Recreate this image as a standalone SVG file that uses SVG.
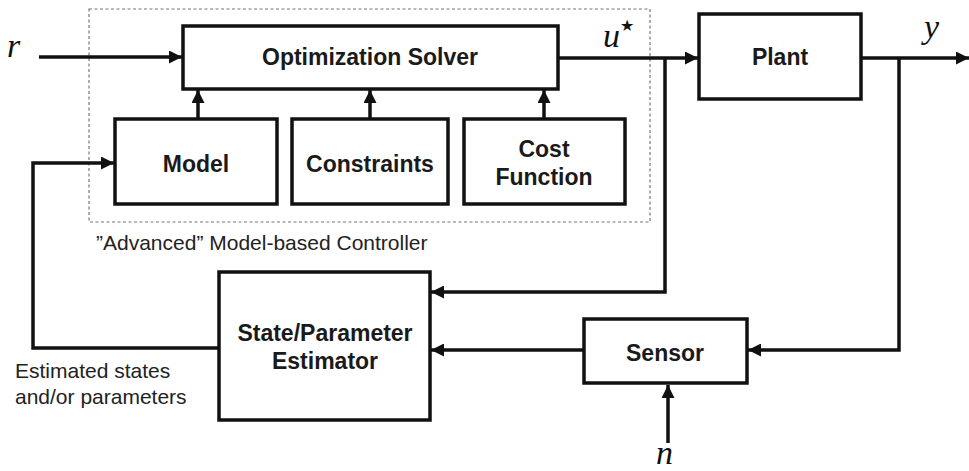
<svg xmlns="http://www.w3.org/2000/svg" width="969" height="471" viewBox="0 0 969 471">
<style>
.box{fill:#fff;stroke:#111;stroke-width:3.5}
.lbl{font-family:"Liberation Sans",Arial,sans-serif;font-weight:bold;font-size:23px;fill:#1a1a1a;text-anchor:middle}
.note{font-family:"Liberation Sans",Arial,sans-serif;font-size:21px;fill:#222}
.math{font-family:"Liberation Serif","DejaVu Serif",serif;font-style:italic;font-size:34px;fill:#111}
.wire{fill:none;stroke:#111;stroke-width:3.5}
</style>
<defs>
<marker id="ah" viewBox="0 0 13 13" refX="13" refY="6.5" markerWidth="13" markerHeight="13" markerUnits="userSpaceOnUse" orient="auto">
<path d="M0,0 L13,6.5 L0,13 z" fill="#111"/>
</marker>
</defs>
<rect id="controller" x="89" y="9" width="561" height="213" fill="none" stroke="#777" stroke-width="1.2" stroke-dasharray="3,2.5"/>
<text class="note" x="96" y="250">”Advanced” Model-based Controller</text>
<g id="connectors">
<path class="wire" d="M39,57 H182" marker-end="url(#ah)"/>
<path class="wire" d="M198,119 V90" marker-end="url(#ah)"/>
<path class="wire" d="M370,119 V90" marker-end="url(#ah)"/>
<path class="wire" d="M544,119 V90" marker-end="url(#ah)"/>
<path class="wire" d="M558,58 H698" marker-end="url(#ah)"/>
<path class="wire" d="M665,58 V292 H431" marker-end="url(#ah)"/>
<path class="wire" d="M861,58 H969" marker-end="url(#ah)"/>
<path class="wire" d="M899,58 V350 H748" marker-end="url(#ah)"/>
<path class="wire" d="M584,350 H431" marker-end="url(#ah)"/>
<path class="wire" d="M668,443 V385" marker-end="url(#ah)"/>
<path class="wire" d="M219,348 H33 V163 H114" marker-end="url(#ah)"/>
</g>
<g id="solver"><rect class="box" x="183" y="26" width="375" height="63"/><text class="lbl" x="370" y="65">Optimization Solver</text></g>
<g id="model"><rect class="box" x="115" y="119" width="162" height="85"/><text class="lbl" x="196" y="172">Model</text></g>
<g id="constraints"><rect class="box" x="292" y="119" width="156" height="85"/><text class="lbl" x="370" y="172">Constraints</text></g>
<g id="cost"><rect class="box" x="464" y="119" width="161" height="85"/><text class="lbl" x="544" y="157">Cost</text><text class="lbl" x="544" y="185">Function</text></g>
<g id="plant"><rect class="box" x="699" y="14" width="162" height="85"/><text class="lbl" x="780" y="65">Plant</text></g>
<g id="estimator"><rect class="box" x="219" y="272" width="211" height="148"/><text class="lbl" x="325" y="341">State/Parameter</text><text class="lbl" x="325" y="369">Estimator</text></g>
<g id="sensor"><rect class="box" x="584" y="319" width="163" height="64"/><text class="lbl" x="665" y="361">Sensor</text></g>
<text class="note" x="15" y="378">Estimated states</text>
<text class="note" x="15" y="404">and/or parameters</text>
<text class="math" x="7" y="57">r</text>
<text class="math" x="603" y="47">u<tspan font-style="normal" font-size="16" dy="-16">★</tspan></text>
<text class="math" x="924" y="38">y</text>
<text class="math" x="656" y="464" font-size="32">n</text>
</svg>
